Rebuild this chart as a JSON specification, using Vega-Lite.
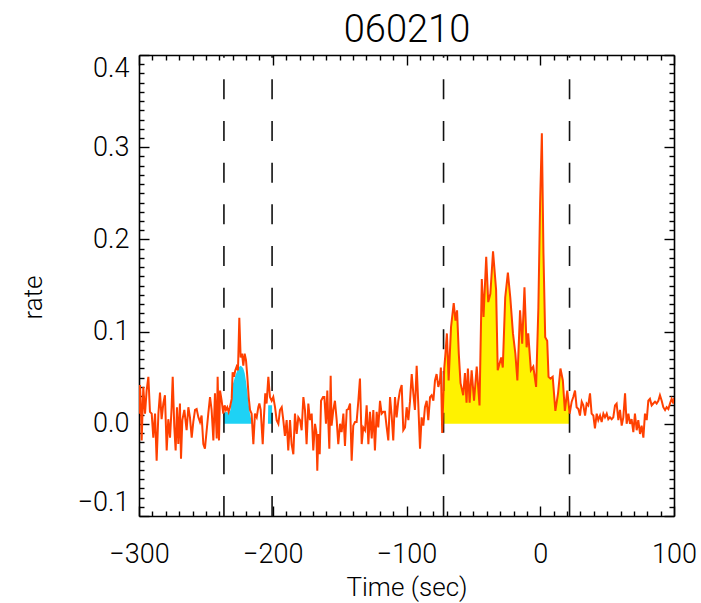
{
  "$schema": "https://vega.github.io/schema/vega-lite/v6.json",
  "width": 535,
  "height": 461,
  "autosize": {"type": "none"},
  "padding": {"left": 139, "top": 55, "right": 27, "bottom": 87},
  "background": "white",
  "datasets": {
    "lc": [
      {"t": -300.0, "r": 0.011}, {"t": -299.25, "r": 0.042}, {"t": -298.5, "r": 0.015}, {"t": -298.0, "r": -0.018},
      {"t": -296.8, "r": 0.04}, {"t": -295.5, "r": 0.011}, {"t": -294.3, "r": 0.036}, {"t": -293.0, "r": 0.051},
      {"t": -291.8, "r": 0.013}, {"t": -290.5, "r": 0.011}, {"t": -289.3, "r": -0.015}, {"t": -288.0, "r": 0.011},
      {"t": -286.8, "r": -0.04}, {"t": -285.5, "r": 0.011}, {"t": -284.3, "r": 0.034}, {"t": -283.1, "r": 0.005},
      {"t": -281.8, "r": 0.022}, {"t": -280.6, "r": 0.031}, {"t": -279.3, "r": -0.029}, {"t": -278.1, "r": 0.005},
      {"t": -276.8, "r": -0.015}, {"t": -275.6, "r": 0.018}, {"t": -274.8, "r": 0.051}, {"t": -273.6, "r": -0.004},
      {"t": -272.6, "r": -0.029}, {"t": -271.6, "r": 0.018}, {"t": -270.6, "r": -0.022}, {"t": -269.4, "r": 0.022},
      {"t": -268.6, "r": -0.038}, {"t": -267.6, "r": 0.004}, {"t": -266.1, "r": 0.015}, {"t": -264.4, "r": -0.007},
      {"t": -263.1, "r": 0.018}, {"t": -261.9, "r": 0.007}, {"t": -260.6, "r": -0.015}, {"t": -259.4, "r": 0.002},
      {"t": -258.1, "r": 0.015}, {"t": -256.9, "r": 0.016}, {"t": -255.6, "r": 0.007}, {"t": -254.4, "r": 0.002},
      {"t": -253.2, "r": 0.009}, {"t": -251.9, "r": -0.022}, {"t": -250.7, "r": -0.027}, {"t": -249.4, "r": -0.007},
      {"t": -248.2, "r": 0.011}, {"t": -246.9, "r": 0.029}, {"t": -245.7, "r": 0.015}, {"t": -244.4, "r": -0.018},
      {"t": -243.2, "r": 0.033}, {"t": -241.9, "r": -0.016}, {"t": -241.2, "r": 0.051}, {"t": -240.2, "r": -0.018},
      {"t": -239.4, "r": 0.036}, {"t": -238.2, "r": 0.025}, {"t": -237.0, "r": 0.011}, {"t": -236.0, "r": 0.02},
      {"t": -235.0, "r": 0.015}, {"t": -234.0, "r": 0.018}, {"t": -233.0, "r": 0.013}, {"t": -232.0, "r": 0.018},
      {"t": -230.7, "r": 0.027}, {"t": -230.0, "r": 0.056}, {"t": -229.0, "r": 0.051}, {"t": -228.0, "r": 0.058},
      {"t": -227.0, "r": 0.062}, {"t": -226.0, "r": 0.058}, {"t": -225.0, "r": 0.115}, {"t": -224.0, "r": 0.072},
      {"t": -223.0, "r": 0.076}, {"t": -222.0, "r": 0.063}, {"t": -221.0, "r": 0.076}, {"t": -220.0, "r": 0.069},
      {"t": -219.0, "r": 0.051}, {"t": -218.0, "r": 0.029}, {"t": -217.0, "r": 0.015}, {"t": -215.8, "r": 0.011},
      {"t": -214.5, "r": -0.022}, {"t": -213.3, "r": 0.011}, {"t": -212.0, "r": 0.007}, {"t": -210.8, "r": 0.018},
      {"t": -210.0, "r": 0.022}, {"t": -209.0, "r": 0.015}, {"t": -207.5, "r": -0.022}, {"t": -206.6, "r": 0.007},
      {"t": -205.6, "r": 0.033}, {"t": -204.6, "r": 0.022}, {"t": -203.3, "r": 0.051}, {"t": -202.1, "r": 0.029},
      {"t": -200.8, "r": 0.025}, {"t": -199.6, "r": 0.029}, {"t": -198.3, "r": 0.018}, {"t": -197.1, "r": 0.004},
      {"t": -195.8, "r": 0.0}, {"t": -194.6, "r": 0.015}, {"t": -193.3, "r": 0.018}, {"t": -192.1, "r": 0.004},
      {"t": -190.9, "r": -0.013}, {"t": -189.6, "r": 0.004}, {"t": -188.4, "r": -0.029}, {"t": -187.1, "r": 0.004},
      {"t": -185.9, "r": -0.022}, {"t": -184.6, "r": -0.033}, {"t": -183.4, "r": 0.011}, {"t": -182.1, "r": -0.011},
      {"t": -180.9, "r": 0.007}, {"t": -179.6, "r": 0.004}, {"t": -178.4, "r": -0.007}, {"t": -177.1, "r": 0.029},
      {"t": -175.9, "r": 0.015}, {"t": -174.7, "r": -0.022}, {"t": -173.4, "r": 0.022}, {"t": -172.2, "r": 0.004},
      {"t": -170.9, "r": 0.011}, {"t": -169.7, "r": -0.029}, {"t": -168.4, "r": 0.0}, {"t": -167.4, "r": -0.009},
      {"t": -166.7, "r": -0.051}, {"t": -165.9, "r": -0.011}, {"t": -164.9, "r": -0.033}, {"t": -163.9, "r": 0.025},
      {"t": -162.4, "r": 0.029}, {"t": -161.4, "r": 0.029}, {"t": -160.2, "r": 0.0}, {"t": -159.2, "r": 0.036},
      {"t": -158.4, "r": 0.0}, {"t": -157.7, "r": -0.027}, {"t": -156.7, "r": 0.052}, {"t": -156.0, "r": -0.002},
      {"t": -154.7, "r": 0.015}, {"t": -153.5, "r": 0.025}, {"t": -152.2, "r": 0.004}, {"t": -151.0, "r": -0.022},
      {"t": -149.7, "r": 0.0}, {"t": -148.5, "r": -0.009}, {"t": -147.2, "r": 0.011}, {"t": -146.0, "r": -0.024},
      {"t": -144.7, "r": 0.015}, {"t": -143.5, "r": 0.016}, {"t": -142.2, "r": 0.022}, {"t": -141.0, "r": -0.04},
      {"t": -139.8, "r": -0.002}, {"t": -138.5, "r": 0.002}, {"t": -137.3, "r": 0.002}, {"t": -136.0, "r": 0.025},
      {"t": -134.8, "r": 0.049}, {"t": -133.5, "r": -0.022}, {"t": -132.3, "r": -0.004}, {"t": -131.0, "r": -0.007},
      {"t": -129.8, "r": 0.02}, {"t": -128.5, "r": -0.022}, {"t": -127.3, "r": 0.013}, {"t": -126.0, "r": -0.016},
      {"t": -124.8, "r": 0.015}, {"t": -123.6, "r": -0.029}, {"t": -122.3, "r": 0.013}, {"t": -121.1, "r": -0.004},
      {"t": -119.8, "r": 0.025}, {"t": -118.6, "r": 0.011}, {"t": -117.3, "r": 0.013}, {"t": -116.1, "r": 0.013},
      {"t": -114.8, "r": -0.004}, {"t": -113.6, "r": -0.018}, {"t": -112.3, "r": 0.029}, {"t": -111.1, "r": 0.009},
      {"t": -109.9, "r": -0.018}, {"t": -108.6, "r": 0.029}, {"t": -107.4, "r": 0.007}, {"t": -106.1, "r": 0.025},
      {"t": -104.9, "r": 0.036}, {"t": -103.6, "r": 0.042}, {"t": -102.4, "r": -0.007}, {"t": -101.1, "r": -0.004},
      {"t": -99.9, "r": 0.018}, {"t": -98.6, "r": 0.004}, {"t": -97.4, "r": 0.024}, {"t": -96.1, "r": 0.054},
      {"t": -94.9, "r": 0.033}, {"t": -93.7, "r": 0.015}, {"t": -92.4, "r": 0.063}, {"t": -91.2, "r": 0.022},
      {"t": -89.9, "r": -0.027}, {"t": -88.7, "r": 0.007}, {"t": -87.4, "r": -0.002}, {"t": -86.2, "r": 0.018},
      {"t": -84.9, "r": 0.025}, {"t": -83.7, "r": 0.004}, {"t": -82.4, "r": 0.029}, {"t": -81.2, "r": 0.031},
      {"t": -79.9, "r": 0.025}, {"t": -78.7, "r": 0.047}, {"t": -77.5, "r": 0.054}, {"t": -76.2, "r": 0.04},
      {"t": -75.0, "r": 0.047}, {"t": -74.3, "r": 0.061}, {"t": -73.3, "r": -0.01}, {"t": -71.8, "r": 0.06},
      {"t": -71.0, "r": 0.074}, {"t": -69.8, "r": 0.098}, {"t": -68.5, "r": 0.047}, {"t": -66.7, "r": 0.105},
      {"t": -64.7, "r": 0.131}, {"t": -63.4, "r": 0.112}, {"t": -62.2, "r": 0.123}, {"t": -60.9, "r": 0.076},
      {"t": -59.6, "r": 0.044}, {"t": -57.6, "r": 0.031}, {"t": -56.3, "r": 0.055}, {"t": -55.1, "r": 0.023},
      {"t": -54.1, "r": 0.06}, {"t": -52.8, "r": 0.023}, {"t": -51.3, "r": 0.058}, {"t": -49.5, "r": 0.025},
      {"t": -47.5, "r": 0.062}, {"t": -45.4, "r": 0.02}, {"t": -43.7, "r": 0.157}, {"t": -42.4, "r": 0.116},
      {"t": -40.4, "r": 0.181}, {"t": -38.9, "r": 0.132}, {"t": -37.3, "r": 0.141}, {"t": -35.3, "r": 0.187},
      {"t": -33.0, "r": 0.145}, {"t": -31.8, "r": 0.058}, {"t": -29.2, "r": 0.072}, {"t": -28.0, "r": 0.061},
      {"t": -26.2, "r": 0.137}, {"t": -24.2, "r": 0.164}, {"t": -22.4, "r": 0.137}, {"t": -20.4, "r": 0.098},
      {"t": -18.6, "r": 0.076}, {"t": -17.1, "r": 0.047}, {"t": -15.1, "r": 0.123}, {"t": -13.5, "r": 0.087},
      {"t": -11.8, "r": 0.148}, {"t": -10.2, "r": 0.083}, {"t": -9.0, "r": 0.098}, {"t": -7.0, "r": 0.058},
      {"t": -5.2, "r": 0.062}, {"t": -3.1, "r": 0.04}, {"t": -1.4, "r": 0.126}, {"t": -0.1, "r": 0.239},
      {"t": 1.2, "r": 0.315}, {"t": 2.4, "r": 0.185}, {"t": 3.7, "r": 0.094}, {"t": 5.2, "r": 0.09},
      {"t": 6.2, "r": 0.051}, {"t": 7.7, "r": 0.049}, {"t": 9.3, "r": 0.051}, {"t": 11.3, "r": 0.014},
      {"t": 13.3, "r": 0.033}, {"t": 15.1, "r": 0.06}, {"t": 16.9, "r": 0.047}, {"t": 18.4, "r": 0.014},
      {"t": 20.2, "r": 0.036}, {"t": 22.0, "r": 0.011}, {"t": 23.5, "r": 0.024}, {"t": 24.7, "r": 0.029},
      {"t": 26.0, "r": 0.036}, {"t": 27.2, "r": 0.018}, {"t": 28.5, "r": 0.016}, {"t": 29.7, "r": 0.009},
      {"t": 31.0, "r": 0.024}, {"t": 32.2, "r": 0.02}, {"t": 33.5, "r": 0.009}, {"t": 34.7, "r": 0.022},
      {"t": 35.9, "r": 0.02}, {"t": 37.2, "r": 0.033}, {"t": 38.4, "r": 0.011}, {"t": 39.7, "r": 0.009},
      {"t": 40.9, "r": -0.005}, {"t": 42.2, "r": 0.011}, {"t": 43.4, "r": 0.004}, {"t": 44.7, "r": 0.009},
      {"t": 45.9, "r": 0.002}, {"t": 47.2, "r": 0.011}, {"t": 48.4, "r": 0.007}, {"t": 49.7, "r": 0.011},
      {"t": 50.9, "r": 0.005}, {"t": 52.1, "r": 0.007}, {"t": 53.4, "r": 0.005}, {"t": 54.6, "r": 0.007},
      {"t": 55.9, "r": 0.02}, {"t": 57.1, "r": 0.022}, {"t": 58.4, "r": 0.004}, {"t": 59.6, "r": 0.015},
      {"t": 60.9, "r": -0.002}, {"t": 62.1, "r": 0.007}, {"t": 63.4, "r": 0.033}, {"t": 64.6, "r": 0.0},
      {"t": 65.9, "r": 0.011}, {"t": 67.1, "r": 0.0}, {"t": 68.3, "r": 0.005}, {"t": 69.6, "r": -0.009},
      {"t": 70.8, "r": 0.011}, {"t": 72.1, "r": -0.007}, {"t": 73.3, "r": 0.004}, {"t": 74.6, "r": -0.011},
      {"t": 75.8, "r": -0.002}, {"t": 77.1, "r": -0.015}, {"t": 78.3, "r": 0.011}, {"t": 79.6, "r": 0.004},
      {"t": 80.8, "r": 0.025}, {"t": 82.0, "r": 0.027}, {"t": 83.3, "r": 0.02}, {"t": 84.5, "r": 0.022},
      {"t": 85.8, "r": 0.024}, {"t": 87.0, "r": 0.022}, {"t": 88.3, "r": 0.025}, {"t": 89.5, "r": 0.031},
      {"t": 90.8, "r": 0.025}, {"t": 92.0, "r": 0.018}, {"t": 93.3, "r": 0.015}, {"t": 94.5, "r": 0.018},
      {"t": 95.8, "r": 0.016}, {"t": 97.0, "r": 0.022}, {"t": 98.2, "r": 0.027}, {"t": 99.5, "r": 0.022},
      {"t": 100.0, "r": 0.028}
    ],
    "fillY": [
      {"t": -72.3, "f": 0.05}, {"t": -71.8, "f": 0.06}, {"t": -71.0, "f": 0.074}, {"t": -69.8, "f": 0.098},
      {"t": -68.5, "f": 0.047}, {"t": -66.7, "f": 0.105}, {"t": -64.7, "f": 0.131}, {"t": -63.4, "f": 0.112},
      {"t": -62.2, "f": 0.123}, {"t": -60.9, "f": 0.076}, {"t": -59.6, "f": 0.044}, {"t": -57.6, "f": 0.031},
      {"t": -56.3, "f": 0.055}, {"t": -55.1, "f": 0.023}, {"t": -54.1, "f": 0.06}, {"t": -52.8, "f": 0.023},
      {"t": -51.3, "f": 0.058}, {"t": -49.5, "f": 0.025}, {"t": -47.5, "f": 0.062}, {"t": -45.4, "f": 0.02},
      {"t": -43.7, "f": 0.157}, {"t": -42.4, "f": 0.116}, {"t": -40.4, "f": 0.181}, {"t": -38.9, "f": 0.132},
      {"t": -37.3, "f": 0.141}, {"t": -35.3, "f": 0.187}, {"t": -33.0, "f": 0.145}, {"t": -31.8, "f": 0.058},
      {"t": -29.2, "f": 0.072}, {"t": -28.0, "f": 0.061}, {"t": -26.2, "f": 0.137}, {"t": -24.2, "f": 0.164},
      {"t": -22.4, "f": 0.137}, {"t": -20.4, "f": 0.098}, {"t": -18.6, "f": 0.076}, {"t": -17.1, "f": 0.047},
      {"t": -15.1, "f": 0.123}, {"t": -13.5, "f": 0.087}, {"t": -11.8, "f": 0.148}, {"t": -10.2, "f": 0.083},
      {"t": -9.0, "f": 0.098}, {"t": -7.0, "f": 0.058}, {"t": -5.2, "f": 0.062}, {"t": -3.1, "f": 0.04},
      {"t": -1.4, "f": 0.126}, {"t": -0.1, "f": 0.239}, {"t": 1.2, "f": 0.315}, {"t": 2.4, "f": 0.185},
      {"t": 3.7, "f": 0.094}, {"t": 5.2, "f": 0.09}, {"t": 6.2, "f": 0.051}, {"t": 7.7, "f": 0.049},
      {"t": 9.3, "f": 0.051}, {"t": 11.3, "f": 0.014}, {"t": 13.3, "f": 0.033}, {"t": 15.1, "f": 0.06},
      {"t": 16.9, "f": 0.047}, {"t": 18.4, "f": 0.014}, {"t": 20.2, "f": 0.036}, {"t": 22.0, "f": 0.011}
    ],
    "fillB": [
      {"t": -236.5, "f": 0.012}, {"t": -235.0, "f": 0.013}, {"t": -233.0, "f": 0.012}, {"t": -231.5, "f": 0.015},
      {"t": -230.5, "f": 0.03}, {"t": -230.0, "f": 0.042}, {"t": -229.0, "f": 0.047}, {"t": -228.0, "f": 0.052},
      {"t": -227.0, "f": 0.056}, {"t": -226.0, "f": 0.06}, {"t": -225.0, "f": 0.062}, {"t": -224.0, "f": 0.063},
      {"t": -223.0, "f": 0.062}, {"t": -222.0, "f": 0.06}, {"t": -221.0, "f": 0.055}, {"t": -220.0, "f": 0.046},
      {"t": -219.0, "f": 0.034}, {"t": -218.0, "f": 0.021}, {"t": -217.0, "f": 0.011}, {"t": -216.0, "f": 0.004},
      {"t": -215.5, "f": 0.0}, {"t": -203.6, "f": 0.0}, {"t": -203.4, "f": 0.02}, {"t": -200.5, "f": 0.02}
    ],
    "bounds": [{"t": -236.5}, {"t": -200.5}, {"t": -72.3}, {"t": 21.9}]
  },
  "resolve": {"axis": {"x": "independent", "y": "independent"}},
  "layer": [
    {
      "data": {"name": "fillY"},
      "mark": {"type": "area", "color": "#fff200", "clip": true},
      "encoding": {
        "x": {"field": "t", "type": "quantitative", "scale": {"domain": [-300, 100], "nice": false, "zero": false},
          "axis": {"orient": "bottom", "title": "Time (sec)",
            "values": [-300,-290,-280,-270,-260,-250,-240,-230,-220,-210,-200,-190,-180,-170,-160,-150,-140,-130,-120,-110,-100,-90,-80,-70,-60,-50,-40,-30,-20,-10,0,10,20,30,40,50,60,70,80,90,100],
            "labelExpr": "datum.value % 100 === 0 ? format(datum.value, 'd') : ''",
            "tickSize": {"condition": {"test": "datum.value % 100 === 0", "value": -10}, "value": -5},
            "labelPadding": 56, "labelBaseline": "alphabetic", "labelFlush": false, "labelFontSize": 27,
            "titleX": 267.5, "titleY": 79, "titleBaseline": "alphabetic", "titleAnchor": "middle"}},
        "y": {"field": "f", "type": "quantitative", "scale": {"domain": [-0.1, 0.4], "nice": false, "zero": false},
          "axis": {"orient": "left", "title": "rate",
            "values": [-0.1,-0.09,-0.08,-0.07,-0.06,-0.05,-0.04,-0.03,-0.02,-0.01,0,0.01,0.02,0.03,0.04,0.05,0.06,0.07,0.08,0.09,0.1,0.11,0.12,0.13,0.14,0.15,0.16,0.17,0.18,0.19,0.2,0.21,0.22,0.23,0.24,0.25,0.26,0.27,0.28,0.29,0.3,0.31,0.32,0.33,0.34,0.35,0.36,0.37,0.38,0.39,0.4],
            "labelExpr": "abs(round(datum.value * 100)) % 10 === 0 ? format(datum.value, '.1f') : ''",
            "tickSize": {"condition": {"test": "abs(round(datum.value * 100)) % 10 === 0", "value": -10}, "value": -5},
            "labelPadding": 20, "labelFlush": true, "labelFontSize": 27,
            "titleX": -106, "titleY": 242, "titleBaseline": "middle", "titleAngle": -90}},
        "y2": {"datum": 0}
      }
    },
    {
      "data": {"name": "fillB"},
      "mark": {"type": "area", "color": "#1ed2f5", "clip": true},
      "encoding": {
        "x": {"field": "t", "type": "quantitative", "scale": {"domain": [-300, 100], "nice": false, "zero": false},
          "axis": {"orient": "top", "title": "060210", "labels": false,
            "titleFontSize": 38, "titleX": 267.5, "titleY": -14, "titleBaseline": "alphabetic", "titleAnchor": "middle", "titleAngle": 0,
            "values": [-300,-290,-280,-270,-260,-250,-240,-230,-220,-210,-200,-190,-180,-170,-160,-150,-140,-130,-120,-110,-100,-90,-80,-70,-60,-50,-40,-30,-20,-10,0,10,20,30,40,50,60,70,80,90,100],
            "tickSize": {"condition": {"test": "datum.value % 100 === 0", "value": -10}, "value": -5}}},
        "y": {"field": "f", "type": "quantitative", "scale": {"domain": [-0.1, 0.4], "nice": false, "zero": false},
          "axis": {"orient": "right", "title": null, "labels": false,
            "values": [-0.1,-0.09,-0.08,-0.07,-0.06,-0.05,-0.04,-0.03,-0.02,-0.01,0,0.01,0.02,0.03,0.04,0.05,0.06,0.07,0.08,0.09,0.1,0.11,0.12,0.13,0.14,0.15,0.16,0.17,0.18,0.19,0.2,0.21,0.22,0.23,0.24,0.25,0.26,0.27,0.28,0.29,0.3,0.31,0.32,0.33,0.34,0.35,0.36,0.37,0.38,0.39,0.4],
            "tickSize": {"condition": {"test": "abs(round(datum.value * 100)) % 10 === 0", "value": -10}, "value": -5}}},
        "y2": {"datum": 0}
      }
    },
    {
      "data": {"name": "bounds"},
      "mark": {"type": "rule", "color": "#111111", "strokeWidth": 1.6, "strokeDash": [20, 21.67]},
      "encoding": {
        "x": {"field": "t", "type": "quantitative", "axis": null},
        "y": {"datum": -0.1, "type": "quantitative", "axis": null},
        "y2": {"datum": 0.4}
      }
    },
    {
      "data": {"name": "lc"},
      "mark": {"type": "line", "color": "#ff4000", "strokeWidth": 2, "clip": true},
      "encoding": {
        "x": {"field": "t", "type": "quantitative", "axis": null},
        "y": {"field": "r", "type": "quantitative", "axis": null}
      }
    }
  ],
  "config": {
    "view": {"stroke": null},
    "axis": {
      "domainColor": "black", "domainWidth": 1.6, "tickColor": "black", "tickWidth": 1.4,
      "labelFont": "Roboto", "labelFontSize": 26, "labelFontWeight": 300, "labelColor": "black",
      "titleFont": "Roboto", "titleFontSize": 26, "titleFontWeight": 300, "titleColor": "black",
      "grid": false, "labelOverlap": false, "labelBound": false
    }
  }
}
